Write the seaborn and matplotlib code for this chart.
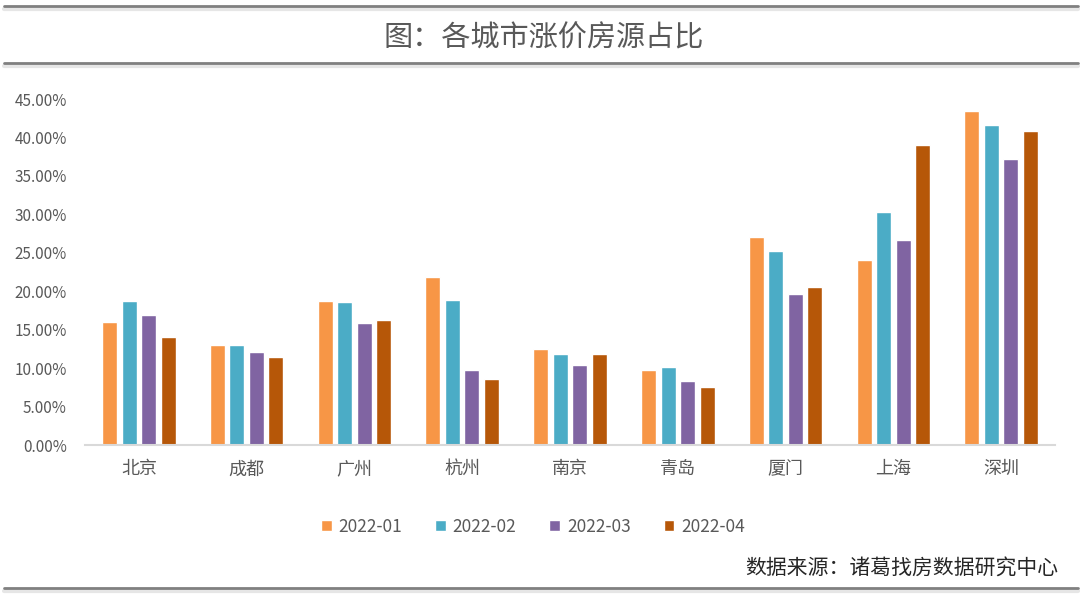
import matplotlib
matplotlib.use("Agg")
import matplotlib.pyplot as plt
from matplotlib.lines import Line2D
from matplotlib.ticker import FuncFormatter
import seaborn as sns
import pandas as pd

cities = ["北京", "成都", "广州", "杭州", "南京", "青岛", "厦门", "上海", "深圳"]
months = ["2022-01", "2022-02", "2022-03", "2022-04"]
v_2022_01 = [0.160, 0.130, 0.187, 0.218, 0.125, 0.098, 0.270, 0.240, 0.435]
v_2022_02 = [0.187, 0.130, 0.186, 0.189, 0.119, 0.102, 0.252, 0.303, 0.416]
v_2022_03 = [0.169, 0.121, 0.159, 0.097, 0.104, 0.083, 0.196, 0.266, 0.372]
v_2022_04 = [0.141, 0.114, 0.162, 0.086, 0.119, 0.075, 0.206, 0.390, 0.408]
colors = ["#F79646", "#4BACC6", "#8064A2", "#B65708"]

rows = []
for m, vals in zip(months, [v_2022_01, v_2022_02, v_2022_03, v_2022_04]):
    for c, v in zip(cities, vals):
        rows.append({"city": c, "month": m, "value": v})
df = pd.DataFrame(rows)

sns.set_theme(style="white")
plt.rcParams["font.family"] = ["Noto Sans CJK SC", "DejaVu Sans"]

fig = plt.figure(figsize=(10.88, 5.99), dpi=100)
ax = fig.add_axes([85/1088, 1-445/599, (1055-85)/1088, (445-99)/599])

sns.barplot(data=df, x="city", y="value", hue="month", order=cities, hue_order=months,
            palette=colors, width=0.724, gap=0.23, saturation=1, ax=ax, legend=True,
            errorbar=None)

ax.set_ylim(0, 0.45)
ax.set_xlim(-0.5, 8.5)
ax.set_yticks([i*0.05 for i in range(10)])
ax.yaxis.set_major_formatter(FuncFormatter(lambda v, p: f"{v*100:.2f}%"))
ax.set_xlabel("")
ax.set_ylabel("")
for s in ["top", "right", "left"]:
    ax.spines[s].set_visible(False)
ax.spines["bottom"].set_color("#D9D9D9")
ax.spines["bottom"].set_linewidth(1.5)
ax.tick_params(axis="both", length=0, colors="#595959")
ax.tick_params(axis="y", labelsize=11, pad=13)
ax.tick_params(axis="x", labelsize=13, pad=11)
ax.grid(False)

handles, labels = ax.get_legend_handles_labels()
ax.get_legend().remove()
fig.legend(handles, labels, loc="center", bbox_to_anchor=(533/1088, 1-527/599), ncol=4,
           frameon=False, fontsize=12.5, handlelength=0.6, handleheight=0.6,
           columnspacing=1.9, handletextpad=0.4, labelcolor="#595959")

fig.text(0.5, 1-38/599, "图：各城市涨价房源占比", ha="center", va="center",
         fontsize=21, color="#595959")
fig.text(1058/1088, 1-568/599, "数据来源：诸葛找房数据研究中心", ha="right", va="center",
         fontsize=15, color="#262626")

for y in [6, 63, 588]:
    fig.add_artist(Line2D([4/1088, 1078/1088], [1-(y+2.5)/599]*2, color="#E6E6E6", lw=3))
    fig.add_artist(Line2D([4/1088, 1078/1088], [1-y/599]*2, color="#808080", lw=2))

fig.savefig("out.png", dpi=100)
